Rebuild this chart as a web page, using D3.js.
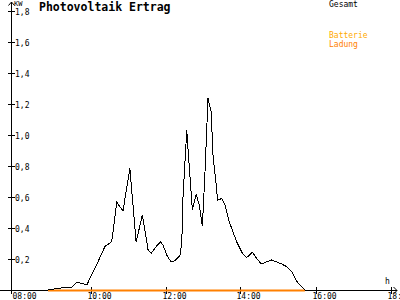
<!DOCTYPE html>
<html lang="de">
<head>
<meta charset="UTF-8">
<title>Photovoltaik Ertrag</title>
<script src="https://d3js.org/d3.v7.min.js"></script>
<style>
  body { margin: 0; background: #fff; }
  svg text { font-family: "DejaVu Sans Mono", monospace; }
</style>
</head>
<body>
<div id="chart"></div>
<script>
  // Messzeiten (hh:mm) und Leistung in kW
  const zeiten = ["08:52","09:08","09:19","09:30","09:38","09:46","09:54","10:12","10:23","10:34",
                  "10:42","10:52","11:03","11:13","11:23","11:32","11:37","11:45","11:52","11:56",
                  "12:02","12:09","12:15","12:23","12:26","12:28","12:34","12:36","12:43","12:49",
                  "12:54","12:59","13:03","13:08","13:10","13:13","13:16","13:22","13:23","13:30",
                  "13:35","13:42","13:54","14:04","14:10","14:19","14:26","14:33","14:50","15:06",
                  "15:14","15:22","15:32","15:43"];
  const gesamt = [0.0, 0.011, 0.015, 0.016, 0.05, 0.043, 0.032, 0.183, 0.28, 0.313,
                  0.566, 0.51, 0.785, 0.31, 0.484, 0.262, 0.236, 0.28, 0.31, 0.29,
                  0.226, 0.18, 0.19, 0.22, 0.3, 0.6, 1.03, 0.91, 0.516, 0.617,
                  0.548, 0.413, 0.742, 1.237, 1.2, 1.15, 0.87, 0.645, 0.58, 0.59,
                  0.55, 0.44, 0.31, 0.23, 0.21, 0.243, 0.204, 0.168, 0.194, 0.168,
                  0.15, 0.118, 0.043, 0.003];
  const ladung = [0, 0, 0, 0, 0, 0, 0, 0, 0, 0, 0, 0, 0, 0, 0, 0, 0, 0, 0, 0, 0, 0, 0, 0, 0, 0, 0,
                  0, 0, 0, 0, 0, 0, 0, 0, 0, 0, 0, 0, 0, 0, 0, 0, 0, 0, 0, 0, 0, 0, 0, 0, 0, 0, 0];
  const xTicks = ["08:00","10:00","12:00","14:00","16:00","18:00"];
  const yTicks = [0.2, 0.4, 0.6, 0.8, 1.0, 1.2, 1.4, 1.6, 1.8];

  const width = 400, height = 300;

  // "hh:mm" -> Stunden als Zahl
  const toHours = s => { const p = s.split(":"); return +p[0] + +p[1] / 60; };

  const x = d3.scaleLinear().domain([8, 18]).range([15.5, 390.5]);
  const y = d3.scaleLinear().domain([0, 1.8]).range([290, 11]);

  const svg = d3.select("#chart").append("svg")
    .attr("width", width)
    .attr("height", height);

  // y-Achse mit Pfeil
  svg.append("line")
    .attr("x1", 11.5).attr("x2", 11.5).attr("y1", 294).attr("y2", 2)
    .attr("stroke", "#000");
  svg.append("path")
    .attr("d", "M8.5,5.5 L11.5,2 L14.5,5.5")
    .attr("fill", "none").attr("stroke", "#000");

  const yt = svg.append("g").selectAll("g")
    .data(yTicks).enter().append("g")
    .attr("transform", d => "translate(0," + (Math.round(y(d)) + 0.5) + ")");
  yt.append("line")
    .attr("x1", 8).attr("x2", 15).attr("stroke", "#000");
  yt.append("text")
    .attr("x", 15).attr("y", d => d == 1.8 ? 3.5 : 3)
    .style("font-size", "8px")
    .text(d => d3.format(".1f")(d).replace(".", ","));

  svg.append("text")
    .attr("x", 14).attr("y", 6)
    .style("font-size", "7px")
    .text("KW");

  // x-Achse mit Pfeil
  svg.append("line")
    .attr("x1", 0).attr("x2", 397).attr("y1", 290.5).attr("y2", 290.5)
    .attr("stroke", "#000");
  svg.append("path")
    .attr("d", "M393.5,287 L397,290.5 L393.5,294")
    .attr("fill", "none").attr("stroke", "#000");

  const xt = svg.append("g").selectAll("g")
    .data(xTicks).enter().append("g")
    .attr("transform", d => "translate(" + (Math.round(x(toHours(d))) + 0.5) + ",0)");
  xt.append("line")
    .attr("y1", 287).attr("y2", 294).attr("stroke", d => d == "08:00" ? "none" : "#000");
  xt.append("text")
    .attr("x", -4).attr("y", 299)
    .style("font-size", "8px")
    .text(d => d);

  svg.append("text")
    .attr("x", 385).attr("y", 284)
    .style("font-size", "8px")
    .text("h");

  // Kurven
  const line = d3.line()
    .x((d, i) => x(toHours(zeiten[i])))
    .y(d => y(d));

  svg.append("path")
    .datum(ladung)
    .attr("d", line)
    .attr("transform", "translate(0,0.5)")
    .attr("fill", "none")
    .attr("stroke", "#ff8000")
    .attr("stroke-width", 2);

  svg.append("path")
    .datum(gesamt)
    .attr("d", line)
    .attr("fill", "none")
    .attr("stroke", "#000")
    .attr("stroke-width", 1)
    .style("shape-rendering", "crispEdges");

  // Titel und Legende
  svg.append("text")
    .attr("x", 39).attr("y", 11)
    .style("font-size", "11.5px")
    .style("font-weight", "bold")
    .text("Photovoltaik Ertrag");

  const legende = [["Gesamt", "#000", 7], ["Batterie", "#ffaa00", 37.5], ["Ladung", "#ff8000", 46.5]];
  svg.selectAll(".leg")
    .data(legende).enter().append("text")
    .attr("class", "leg")
    .attr("x", 329).attr("y", d => d[2])
    .attr("fill", d => d[1])
    .style("font-size", "8px")
    .text(d => d[0]);
</script>
</body>
</html>
